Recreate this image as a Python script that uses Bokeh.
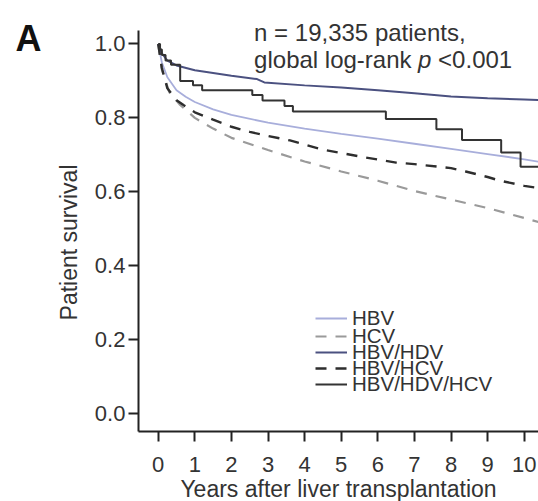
import math
from bokeh.plotting import figure
from bokeh.models import Range1d, FixedTicker, Label, Legend, LegendItem
from bokeh.embed import file_html
from bokeh.resources import INLINE

# ---- data ----
t_hbv = [0, 0.1, 0.25, 0.5, 0.75, 1, 1.5, 2, 3, 4, 5, 6, 7, 8, 9, 10, 10.4]
s_hbv = [1.0, 0.95, 0.91, 0.875, 0.857, 0.843, 0.823, 0.808, 0.787, 0.771, 0.757, 0.744, 0.73, 0.716, 0.702, 0.688, 0.681]

t_hcv = [0, 0.1, 0.3, 0.6, 1, 1.5, 2, 3, 4, 5, 6, 7, 8, 9, 10, 10.4]
s_hcv = [1.0, 0.93, 0.87, 0.835, 0.80, 0.771, 0.746, 0.713, 0.682, 0.655, 0.63, 0.602, 0.579, 0.556, 0.529, 0.518]

t_hdv = [0, 0.1, 0.25, 0.5, 1, 2, 2.7, 2.9, 4, 5, 6, 7, 8, 9, 10, 10.4]
s_hdv = [1.0, 0.975, 0.955, 0.942, 0.929, 0.914, 0.905, 0.896, 0.888, 0.882, 0.875, 0.867, 0.858, 0.853, 0.85, 0.848]

t_hbvhcv = [0, 0.1, 0.25, 0.5, 0.7, 1, 1.5, 2, 2.5, 3, 3.6, 4.5, 5, 5.6, 6.5, 7, 8, 8.4, 9, 9.3, 10, 10.4]
s_hbvhcv = [1.0, 0.935, 0.88, 0.848, 0.834, 0.815, 0.795, 0.776, 0.762, 0.751, 0.739, 0.714, 0.705, 0.694, 0.679, 0.675, 0.664, 0.655, 0.640, 0.631, 0.616, 0.610]

t_triple = [0, 0.05, 0.1, 0.2, 0.35, 0.6, 0.95, 1.2, 2.57, 2.85, 3.45, 3.68, 6.22, 7.6, 8.3, 9.37, 9.9, 10.4]
s_triple = [1.0, 0.985, 0.97, 0.955, 0.944, 0.900, 0.888, 0.875, 0.862, 0.847, 0.832, 0.817, 0.797, 0.769, 0.740, 0.706, 0.668, 0.668]

x_ticks = [0, 1, 2, 3, 4, 5, 6, 7, 8, 9, 10]
y_ticks = [0.0, 0.2, 0.4, 0.6, 0.8, 1.0]
y_tick_labels = ["0.0", "0.2", "0.4", "0.6", "0.8", "1.0"]
series_names = ["HBV", "HCV", "HBV/HDV", "HBV/HCV", "HBV/HDV/HCV"]

FONT = "Liberation Sans"
TXT = "#333333"

# axis extents (data units) and full-canvas frame ranges
X_AX_MIN, X_AX_MAX = -0.54, 10.39
Y_AX_MIN, Y_AX_MAX = -0.0487, 1.0365

p = figure(width=538, height=501, output_backend="svg", toolbar_location=None,
           x_range=Range1d(-4.309, 10.39), y_range=Range1d(-0.2382, 1.1177),
           min_border_left=0, min_border_right=0, min_border_top=0, min_border_bottom=0)
p.outline_line_color = None
p.grid.visible = False
p.background_fill_color = "white"
p.border_fill_color = "white"

r1 = p.line(t_hbv, s_hbv, line_color="#a8aedb", line_width=1.8)
r2 = p.line(t_hcv, s_hcv, line_color="#9a9a9a", line_width=2.2, line_dash="11 9")
r3 = p.line(t_hdv, s_hdv, line_color="#4b5180", line_width=2)
r4 = p.line(t_hbvhcv, s_hbvhcv, line_color="#2e2e2e", line_width=2.4, line_dash="11 9")
r5 = p.step(t_triple, s_triple, mode="after", line_color="#333333", line_width=2)
renderers = [r1, r2, r3, r4, r5]

# axes
for ax in (p.xaxis[0], p.yaxis[0]):
    ax.axis_line_width = 2
    ax.axis_line_color = "#222222"
    ax.major_tick_line_width = 2
    ax.major_tick_line_color = "#222222"
    ax.major_tick_out = 10
    ax.major_tick_in = 0
    ax.minor_tick_line_color = None
    ax.major_label_text_font = FONT
    ax.major_label_text_font_size = "22px"
    ax.major_label_text_color = TXT
    ax.axis_label_text_font = FONT
    ax.axis_label_text_font_size = "23px"
    ax.axis_label_text_font_style = "normal"
    ax.axis_label_text_color = TXT

p.xaxis.fixed_location = Y_AX_MIN
p.xaxis.bounds = (X_AX_MIN, X_AX_MAX)
p.yaxis.fixed_location = X_AX_MIN
p.yaxis.bounds = (Y_AX_MIN, Y_AX_MAX)

p.xaxis.ticker = FixedTicker(ticks=x_ticks)
p.yaxis.ticker = FixedTicker(ticks=y_ticks)
p.yaxis.major_label_overrides = {v: s for v, s in zip(y_ticks, y_tick_labels)}
p.xaxis.axis_label = "Years after liver transplantation"
p.xaxis.major_label_standoff = 16
p.xaxis.axis_label_standoff = 0
p.yaxis.major_label_standoff = 3

# y-axis title, placed a little below the axis centre as in the reference
p.add_layout(Label(x=-2.451, y=0.4628, text="Patient survival", angle=math.pi / 2,
                   text_align="center", text_baseline="middle", text_font=FONT,
                   text_font_size="23px", text_color=TXT))

# legend: one single-item legend per series, stacked tightly
legend_y = [170.7, 153.3, 136.7, 120.7, 104.7]
for name, r, ly in zip(series_names, renderers, legend_y):
    lg = Legend(items=[LegendItem(label=name, renderers=[r])], location=(315, ly),
                padding=0, margin=0, border_line_color=None, background_fill_alpha=0,
                glyph_width=32, glyph_height=14, label_height=14, label_standoff=5,
                label_text_font=FONT, label_text_font_size="20.5px", label_text_color=TXT)
    p.add_layout(lg)

# annotations
p.add_layout(Label(x=-3.90, y=1.0149, text="A", text_font=FONT, text_font_size="36px",
                   text_font_style="bold", text_color="#111111", text_baseline="alphabetic"))
p.add_layout(Label(x=2.62, y=1.032, text="n = 19,335 patients,", text_font=FONT,
                   text_font_size="24px", text_color=TXT, text_baseline="alphabetic"))
p.add_layout(Label(x=2.62, y=0.959, text="global log-rank", text_font=FONT,
                   text_font_size="24px", text_color=TXT, text_baseline="alphabetic"))
p.add_layout(Label(x=2.62, y=0.959, x_offset=164, text="p", text_font=FONT,
                   text_font_size="24px", text_font_style="italic", text_color=TXT,
                   text_baseline="alphabetic"))
p.add_layout(Label(x=2.62, y=0.959, x_offset=184, text="<0.001", text_font=FONT,
                   text_font_size="24px", text_color=TXT, text_baseline="alphabetic"))

open("out.html", "w").write(file_html(p, INLINE))
